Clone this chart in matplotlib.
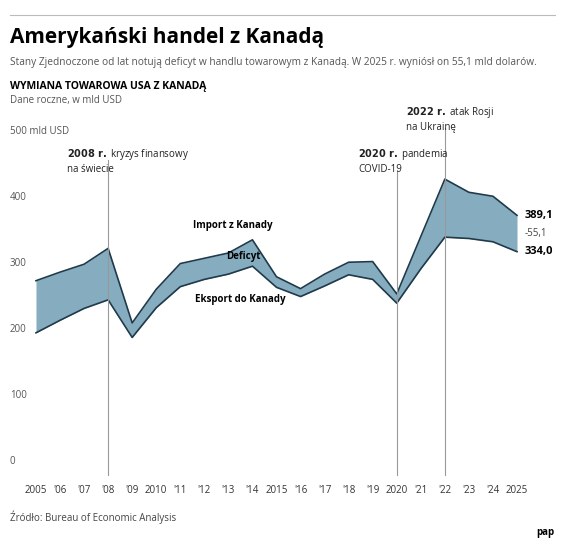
import matplotlib
matplotlib.use("Agg")
import matplotlib.pyplot as plt

years = list(range(2005, 2026))
imports = [290, 303, 315, 339, 226, 277, 316, 324, 332, 352, 296, 278, 300, 318, 319, 270, 357, 444, 424, 418, 389.1]
exports = [211, 230, 248, 261, 204, 249, 281, 292, 300, 312, 280, 266, 282, 299, 292, 256, 308, 356, 354, 349, 334.0]
xlabels = ["2005", "'06", "'07", "'08", "'09", "2010", "'11", "'12", "'13", "'14", "2015", "'16", "'17", "'18", "'19", "2020", "'21", "'22", "'23", "'24", "2025"]
yticks = [0, 100, 200, 300, 400, 500]
ylabels = ["0", "100", "200", "300", "400", "500 mld USD"]

plt.rcParams['font.family'] = ['Open Sans', 'DejaVu Sans']
W, H = 564, 546
fig = plt.figure(figsize=(W/100, H/100), dpi=100)
ax = fig.add_axes([10/W, 1-478/H, 545/W, 353/H])
ax.set_xlim(2003.92, 2026.58)
ax.set_ylim(-9, 526)
for s in ax.spines.values():
    s.set_visible(False)
ax.set_yticks([]); ax.set_xticks([])
for i, l in enumerate(yticks):
    ax.text(2003.92, l + 8, ylabels[i], fontsize=7, color='#555555', ha='left', va='bottom')
for y, l in zip(years, xlabels):
    ax.text(y, -20, l, fontsize=7, color='#333333', ha='center', va='top', clip_on=False)
ax.fill_between(years, exports, imports, color='#86adbf', lw=0)
ax.plot(years, imports, color='#1f3a4a', lw=1.2)
ax.plot(years, exports, color='#1f3a4a', lw=1.2)
for yr, top in [(2008, 473), (2020, 458), (2022, 521)]:
    ax.plot([yr, yr], [-5, top], color='#999999', lw=0.8)
kw = dict(fontsize=7, va='top', ha='left', linespacing=1.2, color='#222222', clip_on=False)
ax.text(2008 - 1.7, 492, "$\\bf{2008\\ r.}$ kryzys finansowy\nna świecie", **kw)
ax.text(2020 - 1.6, 492, "$\\bf{2020\\ r.}$ pandemia\nCOVID-19", **kw)
ax.text(2022 - 1.6, 556, "$\\bf{2022\\ r.}$ atak Rosji\nna Ukrainę", **kw)
ax.text(2013.2, 374, "Import z Kanady", fontsize=7, fontweight='bold', ha='center', va='center')
ax.text(2013.6, 326, "Deficyt", fontsize=7, fontweight='bold', ha='center', va='center')
ax.text(2013.5, 261, "Eksport do Kanady", fontsize=7, fontweight='bold', ha='center', va='center')
ax.text(2025.3, imports[-1], "389,1", fontsize=8, fontweight='bold', va='center')
ax.text(2025.3, (imports[-1] + exports[-1]) / 2, "-55,1", fontsize=7, color='#444444', va='center')
ax.text(2025.3, exports[-1], "334,0", fontsize=8, fontweight='bold', va='center')

fig.text(10/W, 1-38/H, "Amerykański handel z Kanadą", fontsize=15, fontweight='bold', va='center')
fig.text(10/W, 1-62/H, "Stany Zjednoczone od lat notują deficyt w handlu towarowym z Kanadą. W 2025 r. wyniósł on 55,1 mld dolarów.", fontsize=7.3, color='#555555', va='center')
fig.text(10/W, 1-87/H, "WYMIANA TOWAROWA USA Z KANADĄ", fontsize=7.5, fontweight='bold', va='center')
fig.text(10/W, 1-101/H, "Dane roczne, w mld USD", fontsize=7, color='#555555', va='center')
fig.text(10/W, 1-517/H, "Źródło: Bureau of Economic Analysis", fontsize=7, color='#444444', va='center')
fig.text(545/W, 1-532/H, "pap", fontsize=7, fontweight='bold', ha='center', va='center')
line = plt.Line2D([10/W, 555/W], [1-15/H, 1-15/H], color='#bbbbbb', lw=0.8)
fig.add_artist(line)
fig.savefig("out.png", dpi=100, facecolor='white')
